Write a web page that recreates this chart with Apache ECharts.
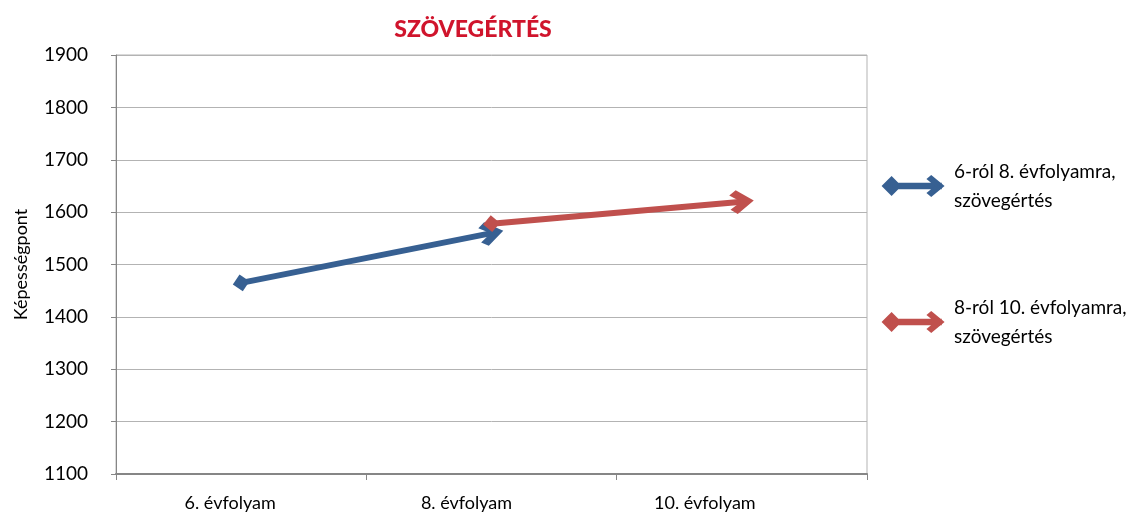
<!DOCTYPE html>
<html><head><meta charset="utf-8">
<script src="https://cdn.jsdelivr.net/npm/echarts@6/dist/echarts.min.js"></script>
<style>html,body{margin:0;padding:0;background:#fff}#c{width:1136px;height:516px}</style>
</head><body><div id="c"></div>
<script>
const categories = ['6. évfolyam', '8. évfolyam', '10. évfolyam'];
const seriesNames = ['6-ról 8. évfolyamra, szövegértés', '8-ról 10. évfolyamra, szövegértés'];
// [categoryIndex, value] start and end of each arrow
const blueArrow = [[0, 1465], [1, 1560]];
const redArrow = [[1, 1578], [2, 1620]];
const yTicks = [1100, 1200, 1300, 1400, 1500, 1600, 1700, 1800, 1900];

const FONT = 'Lato';
const BLUE = '#376092';
const RED = '#C0504D';
const chevron = 'path://M10,0 L20,10 L16,14 L10,7.5 L4,14 L0,10 Z';
const legendIcon = 'path://M0,10 L8,2 L16,10 L8,18 Z M8,8 L54,8 L54,12 L8,12 Z M45,1 L56,10 L45,19 L42,16.5 L50,10 L42,3.5 Z';
const labelShift = [22, 50, 74];
const rich = {};
labelShift.forEach((p, i) => { rich['l' + i] = { fontFamily: FONT, fontSize: 18, color: '#000', padding: [0, p, 0, 0] }; });

const chart = echarts.init(document.getElementById('c'));
function arrowSeries(name, pts, color) {
  return {
    name: name, type: 'lines', coordinateSystem: 'cartesian2d',
    symbol: ['diamond', chevron], symbolSize: [17, 24],
    lineStyle: { color: color, width: 6, opacity: 1, curveness: 0 },
    itemStyle: { color: color },
    data: [{ coords: pts }], silent: true, z: 5
  };
}
chart.setOption({
  animation: false,
  title: { text: 'SZÖVEGÉRTÉS', left: 468, top: 13, textAlign: 'center',
    textStyle: { color: '#D0142C', fontFamily: FONT, fontWeight: 900, fontSize: 23 } },
  grid: { left: 116, right: 269, top: 55, bottom: 42, show: true, borderColor: '#b3b3b3', borderWidth: 1 },
  legend: {
    orient: 'vertical', left: 877, top: 152, itemGap: 78, itemWidth: 60, itemHeight: 20,
    data: [
      { name: seriesNames[0], icon: legendIcon, itemStyle: { color: BLUE } },
      { name: seriesNames[1], icon: legendIcon, itemStyle: { color: RED } }
    ],
    formatter: n => n.replace(', ', ',\n'),
    textStyle: { fontFamily: FONT, fontSize: 19, color: '#000', lineHeight: 29, padding: [0,0,0,6] }
  },
  xAxis: {
    type: 'category', data: categories, boundaryGap: true,
    axisLine: { lineStyle: { color: '#868686', width: 2 } },
    axisTick: { show: true, length: 6, lineStyle: { color: '#868686' } },
    axisLabel: { margin: 20, color: '#000', fontFamily: FONT, fontSize: 18,
      formatter: (v, i) => '{l' + i + '|' + v + '}', rich: rich },
    splitLine: { show: false }
  },
  yAxis: {
    type: 'value', min: yTicks[0], max: yTicks[yTicks.length - 1], interval: 100,
    name: 'Képességpont', nameLocation: 'middle', nameGap: 86, nameRotate: 90,
    nameTextStyle: { fontFamily: FONT, fontSize: 18, color: '#000' },
    axisLine: { show: true, lineStyle: { color: '#868686' } },
    axisTick: { show: true, length: 5, lineStyle: { color: '#868686' } },
    axisLabel: { margin: 28, color: '#000', fontFamily: FONT, fontSize: 19, formatter: v => String(v) },
    splitLine: { lineStyle: { color: '#b3b3b3' } }
  },
  series: [arrowSeries(seriesNames[0], blueArrow, BLUE), arrowSeries(seriesNames[1], redArrow, RED)]
});
</script></body></html>
